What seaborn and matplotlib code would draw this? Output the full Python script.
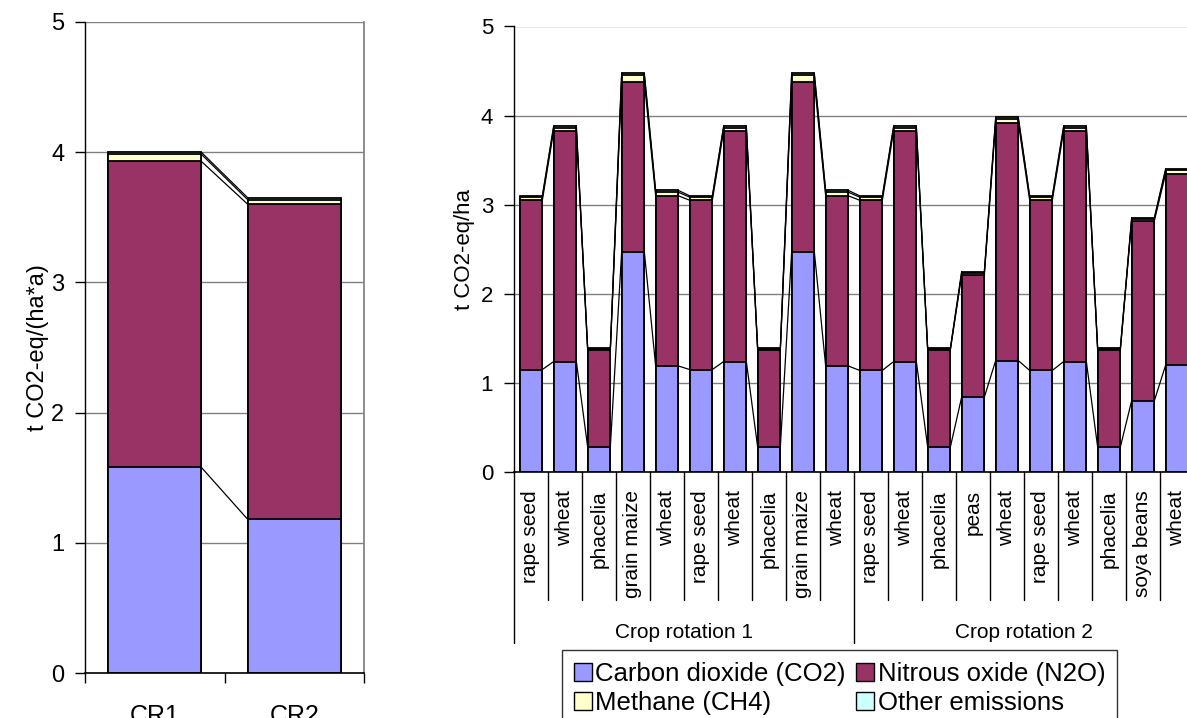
import numpy as np
import matplotlib
matplotlib.use("Agg")
import matplotlib.pyplot as plt
import matplotlib.transforms as mtransforms
from matplotlib.patches import Patch
import seaborn as sns

# ---- annual averages per crop rotation ----
rotation_labels = ["CR1", "CR2"]
rot_co2 = [1.58, 1.18]
rot_n2o = [2.35, 2.42]
rot_ch4 = [0.055, 0.035]
rot_other = [0.015, 0.015]

# ---- per crop within each rotation ----
crops = ["rape seed", "wheat", "phacelia", "grain maize", "wheat",
         "rape seed", "wheat", "phacelia", "grain maize", "wheat",
         "rape seed", "wheat", "phacelia", "peas", "wheat",
         "rape seed", "wheat", "phacelia", "soya beans", "wheat"]
crop_co2 = [1.15, 1.24, 0.28, 2.47, 1.19, 1.15, 1.24, 0.28, 2.47, 1.19,
            1.14, 1.24, 0.28, 0.84, 1.25, 1.14, 1.24, 0.28, 0.80, 1.20]
crop_n2o = [1.90, 2.59, 1.09, 1.91, 1.91, 1.90, 2.59, 1.09, 1.91, 1.91,
            1.91, 2.59, 1.09, 1.37, 2.67, 1.91, 2.59, 1.09, 2.02, 2.15]
crop_ch4 = [0.035, 0.035, 0.005, 0.075, 0.04, 0.035, 0.035, 0.005, 0.075, 0.04,
            0.035, 0.035, 0.005, 0.025, 0.04, 0.035, 0.035, 0.005, 0.02, 0.04]
crop_other = [0.015, 0.02, 0.015, 0.02, 0.02, 0.015, 0.02, 0.015, 0.02, 0.02,
              0.015, 0.02, 0.015, 0.015, 0.02, 0.015, 0.02, 0.015, 0.015, 0.015]
rotation_groups = ["Crop rotation 1", "Crop rotation 2"]
group_sizes = [10, 10]

series_names = ["Carbon dioxide (CO2)", "Nitrous oxide (N2O)",
                "Methane (CH4)", "Other emissions"]
series_colors = ["#9999FF", "#993366", "#FFFFCC", "#CCFFFF"]

sns.set_theme(style="white")
plt.rcParams["font.family"] = ["Liberation Sans", "DejaVu Sans"]
plt.rcParams["text.color"] = "black"
plt.rcParams["axes.labelcolor"] = "black"
plt.rcParams["xtick.color"] = "black"
plt.rcParams["ytick.color"] = "black"

W, H = 1187, 718
fig = plt.figure(figsize=(W / 100, H / 100), dpi=100)


def px_axes(x0, x1, y_top, y_bot):
    return fig.add_axes([x0 / W, 1 - y_bot / H, (x1 - x0) / W, (y_bot - y_top) / H])


def stacked(ax, layers, width):
    cum = np.cumsum(np.array(layers, dtype=float), axis=0)
    n = cum.shape[1]
    xs = np.arange(n)
    # series lines joining the top of each layer between neighbouring bars
    for k in range(cum.shape[0]):
        for i in range(n - 1):
            ax.plot([i + width / 2, i + 1 - width / 2], [cum[k, i], cum[k, i + 1]],
                    color="black", lw=0.9, zorder=1)
    # overlapping cumulative bars, tallest first
    for k in range(cum.shape[0] - 1, -1, -1):
        sns.barplot(x=xs, y=cum[k], color=series_colors[k], saturation=1,
                    width=width, edgecolor="black", linewidth=1.3,
                    errorbar=None, ax=ax, zorder=2)
    return cum


def style_axes(ax, right_spine, tick_size):
    ax.set_ylim(0, 5)
    ax.set_yticks(range(6))
    ax.yaxis.grid(True, color="#808080", lw=1)
    ax.xaxis.grid(False)
    ax.set_axisbelow(True)
    ax.spines["top"].set_visible(False)
    ax.spines["right"].set_visible(right_spine)
    ax.spines["right"].set_color("#808080")
    ax.spines["left"].set_color("black")
    ax.spines["bottom"].set_color("black")
    ax.spines["left"].set_linewidth(1)
    ax.spines["bottom"].set_linewidth(1.2)
    ax.tick_params(axis="y", which="major", left=True, length=7, width=1,
                   color="black", pad=8, labelsize=tick_size, labelcolor="black")
    ax.set_xlabel("")


# ---- left panel: rotation averages ----
axL = px_axes(85, 364, 22, 673)
stacked(axL, [rot_co2, rot_n2o, rot_ch4, rot_other], 0.667)
style_axes(axL, True, 17)
axL.set_xticks(range(len(rotation_labels)))
axL.set_xticklabels(rotation_labels)
axL.tick_params(axis="x", which="major", length=0, pad=22, labelsize=18,
                labelcolor="black")
axL.set_xticks(np.arange(-0.5, len(rotation_labels)), minor=True)
axL.tick_params(axis="x", which="minor", bottom=True, length=7, width=1, color="black")
axL.set_xlim(-0.5, len(rotation_labels) - 0.5)
axL.set_ylabel("t CO2-eq/(ha*a)", fontsize=17, color="black")
axL.yaxis.set_label_coords(-0.13, 0.5)

# ---- right panel: individual crops ----
n = len(crops)
axR = px_axes(514, 514 + 34 * n, 26.5, 472)
stacked(axR, [crop_co2, crop_n2o, crop_ch4, crop_other], 0.667)
style_axes(axR, False, 16)
axR.set_xlim(-0.5, n - 0.5)
axR.set_xticks(range(n))
axR.set_xticklabels(crops, rotation=90)
axR.tick_params(axis="x", which="major", length=0, pad=13, labelsize=15,
                labelcolor="black")
axR.set_ylabel("t CO2-eq/ha", fontsize=16, color="black")
axR.yaxis.set_label_coords(-0.058, 0.5)

trans = mtransforms.blended_transform_factory(axR.transData, axR.transAxes)
ax_h = 472 - 26.5
y_cat = -(600 - 472) / ax_h
y_grp = -(643 - 472) / ax_h
group_edges = np.concatenate([[0], np.cumsum(group_sizes)]) - 0.5
for b in np.arange(-0.5, n):
    long = np.any(np.isclose(b, group_edges))
    axR.plot([b, b], [0, y_grp if long else y_cat], color="black", lw=1,
             transform=trans, clip_on=False)
for g, name in enumerate(rotation_groups):
    xc = (group_edges[g] + group_edges[g + 1]) / 2
    axR.text(xc, -(632 - 472) / ax_h, name, transform=trans, ha="center",
             va="center", fontsize=15, color="black")

# ---- legend ----
handles = [Patch(facecolor=c, edgecolor="black", lw=1) for c in series_colors]
order = [0, 2, 1, 3]
leg = fig.legend([handles[i] for i in order], [series_names[i] for i in order],
                 ncol=2, loc="upper left", bbox_to_anchor=(562 / W, 1 - 650 / H),
                 fontsize=18.5, frameon=True, fancybox=False, edgecolor="black",
                 handlelength=0.7, handleheight=0.7, handletextpad=0.15,
                 columnspacing=0.4, labelspacing=0.22, borderpad=0.45,
                 borderaxespad=0)
leg.get_frame().set_linewidth(1)
for t in leg.get_texts():
    t.set_color("black")

fig.savefig("out.png", dpi=100)
